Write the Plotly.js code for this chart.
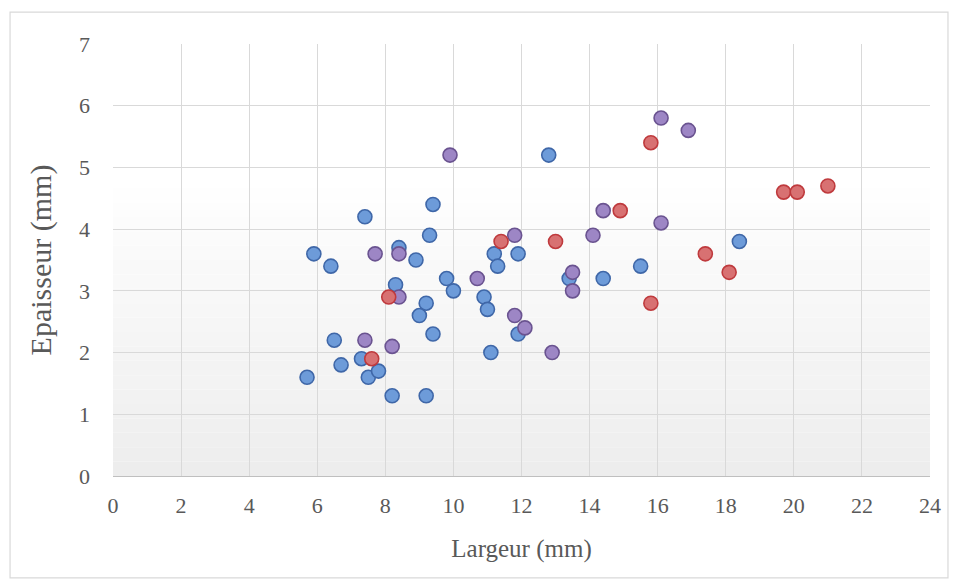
<!DOCTYPE html>
<html><head><meta charset="utf-8">
<script src="https://cdn.plot.ly/plotly-3.0.1.min.js"></script>
<style>html,body{margin:0;padding:0;background:#fff;}#c{width:960px;height:583px;}</style>
</head><body><div id="c"></div>
<script>
const blueX = [5.7,5.9,6.4,6.5,6.7,7.3,7.4,7.5,7.8,8.2,8.3,8.4,8.9,9.0,9.2,9.2,9.3,9.4,9.4,9.8,10.0,10.9,11.0,11.1,11.2,11.3,11.9,11.9,12.8,13.4,14.4,15.5,18.4];
const blueY = [1.6,3.6,3.4,2.2,1.8,1.9,4.2,1.6,1.7,1.3,3.1,3.7,3.5,2.6,2.8,1.3,3.9,4.4,2.3,3.2,3.0,2.9,2.7,2.0,3.6,3.4,3.6,2.3,5.2,3.2,3.2,3.4,3.8];
const purpleX = [7.7,7.4,8.2,8.4,8.4,9.9,10.7,11.8,11.8,12.1,12.9,13.5,13.5,14.1,14.4,16.1,16.1,16.9];
const purpleY = [3.6,2.2,2.1,3.6,2.9,5.2,3.2,3.9,2.6,2.4,2.0,3.3,3.0,3.9,4.3,5.8,4.1,5.6];
const redX = [7.6,8.1,11.4,13.0,14.9,15.8,15.8,17.4,18.1,19.7,20.1,21.0];
const redY = [1.9,2.9,3.8,3.8,4.3,5.4,2.8,3.6,3.3,4.6,4.6,4.7];
const xTitle = 'Largeur (mm)';
const yTitle = 'Epaisseur (mm)';

function mk(x, y, fill, line) {
  return {x: x, y: y, type: 'scatter', mode: 'markers', showlegend: false,
    marker: {size: 14, color: fill, line: {color: line, width: 1.6}}, hoverinfo: 'x+y'};
}
const traces = [
  mk(blueX, blueY, '#6d9bd9', '#3f67a8'),
  mk(purpleX, purpleY, '#9d86c5', '#6a5390'),
  mk(redX, redY, '#d87172', '#bf3a3d')
];

const shapes = [];
const n = 30;
for (let i = 0; i < n; i++) {
  const t0 = i / n, t1 = (i + 1) / n;
  const f = Math.max(0, 1 - ((t0 + t1) / 2) / 0.7);
  const g = Math.round(255 - 18 * f);
  shapes.push({type: 'rect', xref: 'x domain', yref: 'y domain', x0: 0, x1: 1, y0: t0, y1: t1,
    fillcolor: `rgb(${g},${g},${g})`, line: {width: 0}, layer: 'below'});
}
shapes.push({type: 'rect', xref: 'paper', yref: 'paper', x0: -0.126, x1: 1.022, y0: -0.236, y1: 1.074,
  line: {color: '#d9d9d9', width: 1.2}, fillcolor: 'rgba(0,0,0,0)', layer: 'below'});

const tickF = {family: 'Liberation Serif, serif', size: 22, color: '#595959'};
const xtF = {family: 'Liberation Serif, serif', size: 25, color: '#595959'};
const ytF = {family: 'Liberation Serif, serif', size: 30, color: '#595959'};
const layout = {
  width: 960, height: 583,
  margin: {l: 113, r: 30, t: 44, b: 107},
  paper_bgcolor: '#ffffff', plot_bgcolor: 'rgba(0,0,0,0)',
  font: tickF,
  xaxis: {range: [0, 24], dtick: 2, tick0: 0, showgrid: true, gridcolor: '#d9d9d9', gridwidth: 1,
    zeroline: false, showline: true, linecolor: '#bfbfbf', linewidth: 1, ticks: '', ticklabelstandoff: 10,
    tickfont: tickF, title: {text: xTitle, font: xtF, standoff: 22}, fixedrange: true},
  yaxis: {range: [0, 7], dtick: 1, tick0: 0, showgrid: true, gridcolor: '#d9d9d9', gridwidth: 1,
    zeroline: false, showline: false, ticks: '', ticklabelstandoff: 22,
    tickfont: tickF, title: {text: yTitle, font: ytF, standoff: 18}, fixedrange: true},
  shapes: shapes
};
Plotly.newPlot('c', traces, layout, {displayModeBar: false, staticPlot: true});
</script>
</body></html>
